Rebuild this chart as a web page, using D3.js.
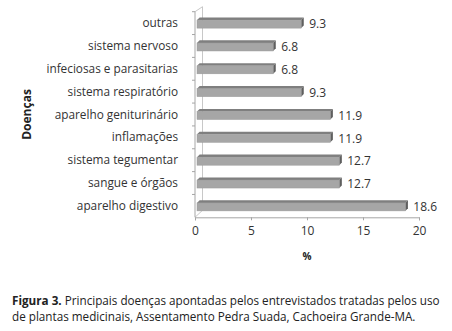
<!DOCTYPE html>
<html>
<head>
<meta charset="utf-8">
<script src="https://cdn.jsdelivr.net/npm/d3@7"></script>
<style>
  body { margin: 0; background: #fff; }
  svg { display: block; font-family: "Open Sans", sans-serif; }
</style>
</head>
<body>
<div id="chart"></div>
<script>
// data, top to bottom as in the figure
const categories = [
    'outras', 'sistema nervoso', 'infeciosas e parasitarias',
    'sistema respiratório', 'aparelho geniturinário', 'inflamações',
    'sistema tegumentar', 'sangue e órgãos', 'aparelho digestivo'
];
const values = [9.3, 6.8, 6.8, 9.3, 11.9, 11.9, 12.7, 12.7, 18.6];
const xTicks = [0, 5, 10, 15, 20];

const width = 452, height = 331;
const margin = {top: 11.7, left: 195, right: 34, bottom: 114};
const depth = 7.5;   // offset of the back wall
const bd = 2.6;      // bar depth

const svg = d3.select('#chart')
    .append('svg')
        .attr('width', width)
        .attr('height', height);

const x = d3.scaleLinear()
    .domain([0, 20])
    .range([margin.left, width - margin.right + 1]);
const y = d3.scaleBand()
    .domain(categories)
    .range([margin.top, height - margin.bottom + 0.3]);

const y0 = y.range()[1];

// back wall + floor edge
svg.append('path')
    .attr('fill', 'none')
    .attr('stroke', '#c8c8c8')
    .attr('d', `M${x(0)},${margin.top} l${depth},-5 V${y0 - 7} L${x(0)},${y0}`);

// front axis lines
svg.append('line')
    .attr('x1', x(0)).attr('x2', x(0))
    .attr('y1', margin.top).attr('y2', y0)
    .attr('stroke', '#a6a6a6');
svg.append('g')
    .selectAll('line')
    .data(categories)
    .join('line')
        .attr('x1', x(0) - 3).attr('x2', x(0))
        .attr('y1', d => y(d)).attr('y2', d => y(d))
        .attr('stroke', '#a6a6a6');

// bottom axis
svg.append('g')
    .attr('transform', `translate(0,${y0})`)
    .call(d3.axisBottom(x).tickValues(xTicks).tickSize(3).tickPadding(6))
    .call(g => g.select('.domain').attr('stroke', '#a6a6a6'))
    .call(g => g.selectAll('.tick line').attr('stroke', '#a6a6a6'))
    .call(g => g.selectAll('.tick text')
        .attr('fill', '#333')
        .style('font-family', '"Open Sans", sans-serif')
        .style('font-size', '12px'));

// category labels
svg.append('g')
    .selectAll('text')
    .data(categories)
    .join('text')
        .attr('x', 178)
        .attr('y', d => y(d) + y.bandwidth() / 2)
        .attr('dy', '0.35em')
        .attr('text-anchor', 'end')
        .attr('fill', '#333')
        .style('font-size', '11.8px')
        .text(d => d);

// bars
const bars = svg.append('g')
    .selectAll('g')
    .data(categories.map((c, i) => ({name: c, value: values[i]})))
    .join('g')
        .attr('transform', d => `translate(0,${y(d.name) + y.bandwidth() / 2})`);

const bh = 8;
bars.append('path')   // top face
    .attr('fill', '#7f7f7f')
    .attr('d', d => `M${x(0) + 2},${-bh / 2 + 1} l${bd},-${bd} H${x(d.value) + 2 + bd} l-${bd},${bd} Z`);
bars.append('path')   // right face
    .attr('fill', '#5f5f5f')
    .attr('d', d => `M${x(d.value) + 2},${-bh / 2 + 1} l${bd},-${bd} v${bh} l-${bd},${bd} Z`);
bars.append('rect')   // front face
    .attr('x', x(0) + 2)
    .attr('y', -bh / 2 + 1)
    .attr('width', d => x(d.value) - x(0))
    .attr('height', bh)
    .attr('fill', '#a6a6a6')
    .attr('stroke', '#9a9a9a')
    .attr('stroke-width', 0.5);

bars.append('text')
    .attr('x', d => x(d.value) + 10)
    .attr('y', 1)
    .attr('dy', '0.35em')
    .attr('fill', '#333')
    .style('font-size', '12px')
    .text(d => d.value.toFixed(1));

// axis titles
svg.append('text')
    .attr('transform', `translate(31,${(margin.top + y0) / 2}) rotate(-90)`)
    .attr('text-anchor', 'middle')
    .attr('fill', '#222')
    .style('font-size', '12px')
    .style('font-weight', 'bold')
    .text('Doenças');
svg.append('text')
    .attr('x', (x(0) + x(20)) / 2)
    .attr('y', 260)
    .attr('text-anchor', 'middle')
    .attr('fill', '#222')
    .style('font-size', '10px')
    .style('font-weight', 'bold')
    .text('%');

// caption
const cap = svg.append('text')
    .attr('fill', '#222')
    .style('font-size', '11.7px');
const l1 = cap.append('tspan').attr('x', 12).attr('y', 305);
l1.append('tspan').style('font-weight', 'bold').text('Figura 3.');
l1.append('tspan').text(' Principais doenças apontadas pelos entrevistados tratadas pelos uso');
cap.append('tspan').attr('x', 12).attr('y', 321)
    .text('de plantas medicinais, Assentamento Pedra Suada, Cachoeira Grande-MA.');
</script>
</body>
</html>
